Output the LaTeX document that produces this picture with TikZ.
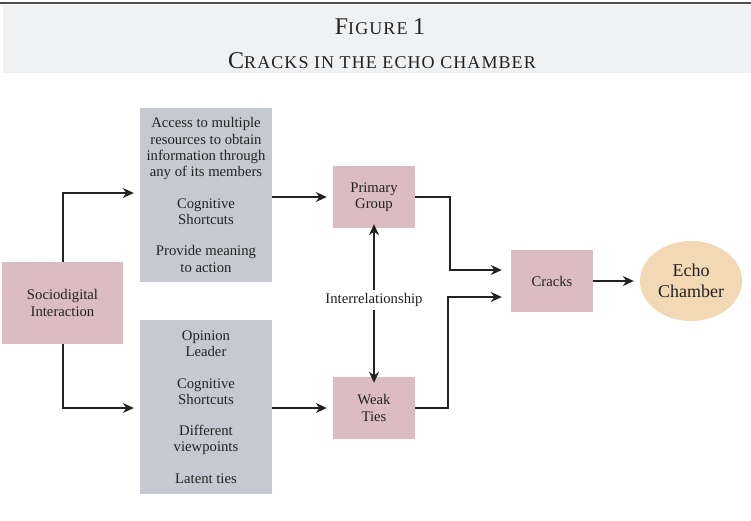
\documentclass[tikz,border=0pt]{standalone}
\usepackage{fontspec}
\setmainfont{Liberation Serif}
\usetikzlibrary{arrows.meta,shapes.geometric}
\definecolor{pinkbox}{HTML}{DBBCC2}
\definecolor{graybox}{HTML}{C6CAD0}
\definecolor{echo}{HTML}{F2D8B5}
\definecolor{band}{HTML}{F0F1F3}
\definecolor{ink}{HTML}{222222}
\newfontfamily\titlefont[LetterSpace=6]{Liberation Serif}
\newcommand{\bigc}[1]{{\fontsize{24}{26}\selectfont #1}}
\begin{document}
\begin{tikzpicture}[x=1pt,y=-1pt,
  every node/.style={font=\fontsize{14.7}{16.3}\selectfont, text=ink},
  pinkrect/.style={fill=pinkbox, draw=none, minimum width=82pt, minimum height=62pt, align=center, inner sep=0pt},
  grayrect/.style={fill=graybox, draw=none, minimum width=132pt, minimum height=174pt, align=center, inner sep=0pt},
  conn/.style={draw=ink, line width=1.5pt, -{Stealth[length=11pt,width=10pt]}},
  titletext/.style={anchor=base, font=\titlefont\fontsize{18}{20}\selectfont}]
\useasboundingbox (0,0) rectangle (751,520);
\fill[white] (0,0) rectangle (751,520);
\fill[band] (3,5) rectangle (751,73);
\draw[line width=2pt, draw=ink!80] (0,3) -- (751,3);
\node[titletext] (t1) at (380,34) {\bigc{F}IGURE \bigc{1}};
\node[titletext] (t2) at (382,68) {\bigc{C}RACKS IN THE ECHO CHAMBER};

\node[pinkrect, minimum width=121pt, minimum height=82pt] (soc) at (62.5,303) {Sociodigital\\Interaction};
\node[grayrect] (top) at (206,195) {Access to multiple\\resources to obtain\\information through\\any of its members\\[15pt]Cognitive\\Shortcuts\\[15pt]Provide meaning\\to action};
\node[grayrect] (bot) at (206,407) {Opinion\\Leader\\[15pt]Cognitive\\Shortcuts\\[15pt]Different\\viewpoints\\[15pt]Latent ties};
\node[pinkrect] (pg) at (374,197) {Primary\\Group};
\node[pinkrect] (wt) at (374,408) {Weak\\Ties};
\node[pinkrect] (cr) at (552,281) {Cracks};
\node[ellipse, fill=echo, minimum width=102pt, minimum height=80pt, inner sep=0pt, align=center, font=\fontsize{18}{21}\selectfont] (ec) at (691,281) {Echo\\Chamber};
\node (ir) at (374,300) {Interrelationship};

\coordinate (s1) at (63,262);
\coordinate (s2) at (63,344);
\draw[conn] (s1) |- ([xshift=-6pt,yshift=2pt]top.west);
\draw[conn] (s2) |- ([xshift=-6pt]bot.west |- 0,408);
\draw[conn] (top.east |- 0,197) -- ([xshift=-6pt]pg.west);
\draw[conn] (bot.east |- 0,408) -- ([xshift=-6pt]wt.west);
\draw[conn] (pg.east) -- (450,197) |- ([xshift=-9pt]cr.west |- 0,270);
\draw[conn] (wt.east) -- (448,408) |- ([xshift=-9pt]cr.west |- 0,297);
\draw[conn] (cr.east) -- ([xshift=-6pt]ec.west);
\draw[conn] (ir.north) -- ([yshift=4pt]pg.south);
\draw[conn] (ir.south) -- ([yshift=-6pt]wt.north);
\end{tikzpicture}
\end{document}
